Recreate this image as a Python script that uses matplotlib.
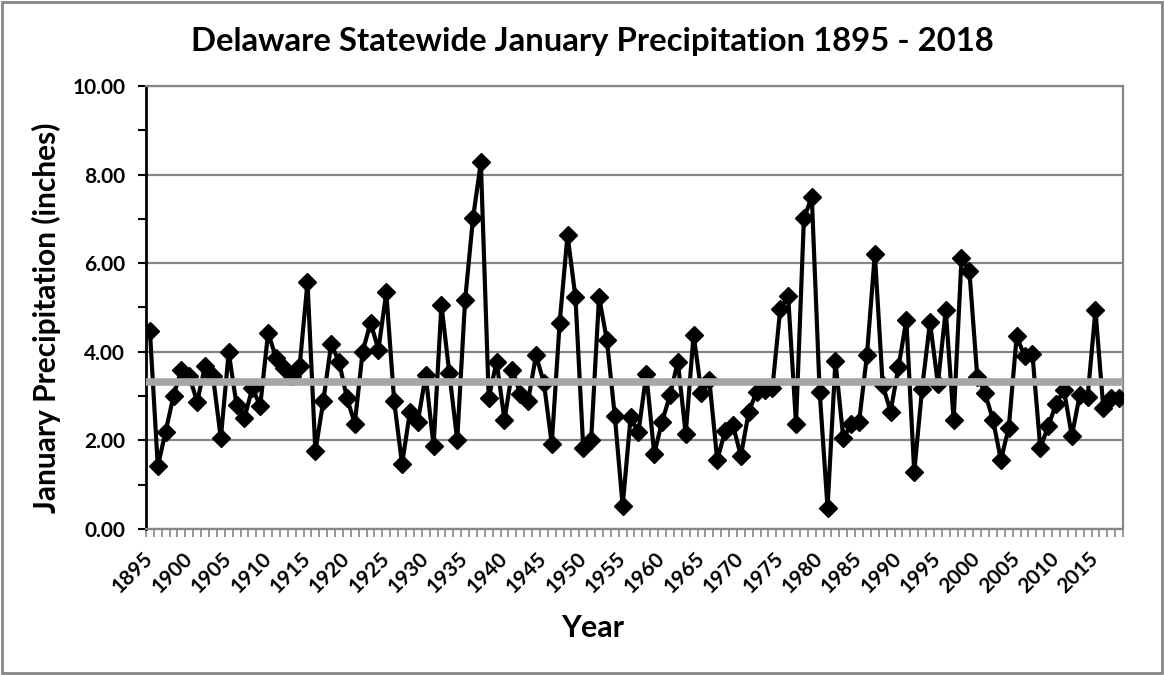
import numpy as np
import matplotlib.pyplot as plt
from matplotlib.patches import Rectangle
from matplotlib.ticker import MultipleLocator, FixedLocator

plt.rcParams['font.family'] = ['Lato', 'DejaVu Sans']
plt.rcParams['font.weight'] = 'bold'

# data
years = list(range(1895, 2019))
precip = [
    4.47, 1.42, 2.20, 3.01, 3.60, 3.45, 2.87, 3.68, 3.45, 2.05,   # 1895-1904
    3.99, 2.80, 2.51, 3.18, 2.78, 4.43, 3.87, 3.64, 3.46, 3.67,   # 1905-1914
    5.57, 1.75, 2.88, 4.17, 3.78, 2.96, 2.38, 4.00, 4.66, 4.05,   # 1915-1924
    5.34, 2.88, 1.47, 2.64, 2.42, 3.47, 1.88, 5.06, 3.52, 2.01,   # 1925-1934
    5.16, 7.01, 8.28, 2.96, 3.78, 2.46, 3.60, 3.05, 2.90, 3.92,   # 1935-1944
    3.30, 1.92, 4.65, 6.64, 5.24, 1.82, 2.02, 5.24, 4.26, 2.55,   # 1945-1954
    0.52, 2.52, 2.18, 3.50, 1.70, 2.42, 3.02, 3.78, 2.14, 4.39,   # 1955-1964
    3.06, 3.36, 1.56, 2.21, 2.34, 1.65, 2.64, 3.10, 3.14, 3.18,   # 1965-1974
    4.97, 5.25, 2.38, 7.01, 7.50, 3.10, 0.48, 3.79, 2.05, 2.36,   # 1975-1984
    2.42, 3.92, 6.21, 3.25, 2.65, 3.65, 4.72, 1.28, 3.17, 4.67,   # 1985-1994
    3.28, 4.94, 2.46, 6.11, 5.83, 3.44, 3.06, 2.46, 1.56, 2.29,   # 1995-2004
    4.35, 3.91, 3.95, 1.83, 2.32, 2.82, 3.14, 2.10, 3.02, 2.97,   # 2005-2014
    4.94, 2.73, 2.96, 2.96,                                       # 2015-2018
]
avg_precip = 3.32
label_years = list(range(1895, 2016, 5))

fig = plt.figure(figsize=(11.64, 6.75), dpi=100)
ax = fig.add_axes([0.1254, 0.2163, 0.8394, 0.6563])

# data series
ax.plot(years, precip, color='black', lw=3, marker='D', ms=9,
        markerfacecolor='black', markeredgecolor='black', zorder=3)

# long-term average line sits on top of the series
ax.plot([1894.5, 2018.5], [avg_precip, avg_precip], color='#a6a6a6',
        lw=5.5, solid_capstyle='butt', zorder=4)

ax.set_xlim(1894.5, 2018.5)
ax.set_ylim(0, 10)

# y axis
ax.yaxis.set_major_locator(MultipleLocator(2))
ax.yaxis.set_minor_locator(MultipleLocator(1))
ax.yaxis.set_major_formatter(lambda v, p: f'{v:.2f}')
ax.grid(axis='y', which='major', color='#868686', lw=1.6, zorder=1)
ax.tick_params(axis='y', which='both', direction='out', length=6, width=1.5,
               color='black', labelsize=15, pad=9)

# x axis: ticks between categories, labels every 5 years
ax.xaxis.set_minor_locator(FixedLocator(np.arange(1894.5, 2019, 1)))
ax.xaxis.set_major_locator(FixedLocator(label_years))
ax.tick_params(axis='x', which='minor', direction='out', length=6, width=1.2,
               color='#868686')
ax.tick_params(axis='x', which='major', length=0, labelsize=15, pad=19)
for lbl in ax.get_xticklabels():
    lbl.set_rotation(45)
    lbl.set_ha('right')
    lbl.set_va('center')
    lbl.set_rotation_mode('anchor')
    lbl.set_fontweight('bold')
for lbl in ax.get_yticklabels():
    lbl.set_fontweight('bold')

for side in ['top', 'right', 'bottom']:
    ax.spines[side].set_color('#868686')
    ax.spines[side].set_linewidth(1.6)
ax.spines['left'].set_color('black')
ax.spines['left'].set_linewidth(2)

fig.text(0.5086, 0.938, 'Delaware Statewide January Precipitation 1895 - 2018',
         fontsize=23.7, fontweight='bold', ha='center', va='center')
fig.text(0.0395, 0.5296, 'January Precipitation (inches)', fontsize=21.5,
         fontweight='bold', rotation=90, ha='center', va='center')
fig.text(0.5095, 0.0696, 'Year', fontsize=22, fontweight='bold',
         ha='center', va='center')

# outer chart border
fig.patches.append(Rectangle((0.002, 0.003), 0.996, 0.994, transform=fig.transFigure,
                             fill=False, edgecolor='#868686', lw=2))

fig.savefig('out.png', dpi=100)
